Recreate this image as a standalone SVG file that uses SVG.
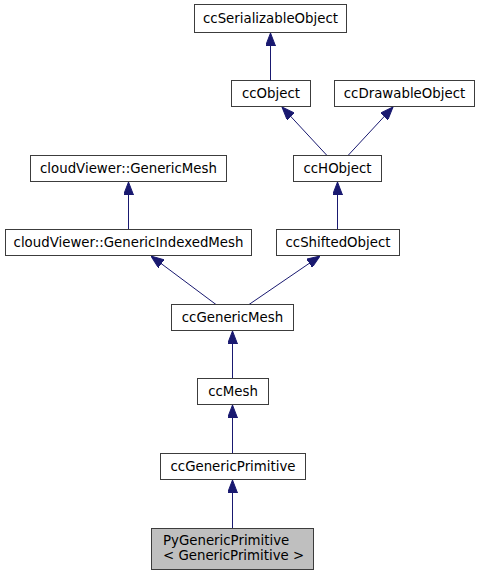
<svg xmlns="http://www.w3.org/2000/svg" width="480" height="575" viewBox="0 0 480 575">
<style>
  .node rect { fill: #ffffff; stroke: #3c3c3c; stroke-width: 1; }
  .node.cur rect { fill: #bfbfbf; }
  .node text { font-family: "DejaVu Sans", sans-serif; font-size: 13.33px; fill: #000000; }
  .node text.c { text-anchor: middle; }
  .edge { stroke: #191970; stroke-width: 1; fill: none; marker-end: url(#arr); }
</style>
<defs>
  <marker id="arr" markerUnits="userSpaceOnUse" viewBox="0 0 13 10" refX="13" refY="5" markerWidth="13" markerHeight="10" orient="auto">
    <path d="M0,0 L13,5 L0,10 Z" fill="#191970" stroke="#191970" stroke-width="1"/>
  </marker>
</defs>
<rect width="480" height="575" fill="#ffffff"/>
<g id="connectors">
  <path class="edge" d="M270.5,80.5 L270.5,33"/>
  <path class="edge" d="M327,155.5 L282,107"/>
  <path class="edge" d="M348,155.5 L393,107"/>
  <path class="edge" d="M128.5,229.5 L128.5,182"/>
  <path class="edge" d="M337.5,229.5 L337.5,182"/>
  <path class="edge" d="M216,304.5 L151,256"/>
  <path class="edge" d="M249,304.5 L320,256"/>
  <path class="edge" d="M232.5,378.5 L232.5,331"/>
  <path class="edge" d="M232.5,453.5 L232.5,405"/>
  <path class="edge" d="M232.5,528.5 L232.5,480"/>
</g>
<g id="ccSerializableObject" class="node">
  <rect x="194.5" y="4.5" width="152" height="28"/>
  <text class="c" x="270.5" y="23.2">ccSerializableObject</text>
</g>
<g id="ccObject" class="node">
  <rect x="231.5" y="80.5" width="79" height="26"/>
  <text class="c" x="271" y="98.2">ccObject</text>
</g>
<g id="ccDrawableObject" class="node">
  <rect x="334.5" y="80.5" width="140" height="26"/>
  <text class="c" x="404.5" y="98.2">ccDrawableObject</text>
</g>
<g id="cloudViewer_GenericMesh" class="node">
  <rect x="30.5" y="155.5" width="196" height="26"/>
  <text class="c" x="128.5" y="173.2">cloudViewer::GenericMesh</text>
</g>
<g id="ccHObject" class="node">
  <rect x="293.5" y="155.5" width="88" height="26"/>
  <text class="c" x="337.5" y="173.2">ccHObject</text>
</g>
<g id="cloudViewer_GenericIndexedMesh" class="node">
  <rect x="5.5" y="229.5" width="246" height="26"/>
  <text class="c" x="128.5" y="247.2">cloudViewer::GenericIndexedMesh</text>
</g>
<g id="ccShiftedObject" class="node">
  <rect x="276.5" y="229.5" width="123" height="26"/>
  <text class="c" x="338" y="247.2">ccShiftedObject</text>
</g>
<g id="ccGenericMesh" class="node">
  <rect x="171.5" y="304.5" width="122" height="26"/>
  <text class="c" x="232.5" y="322.2">ccGenericMesh</text>
</g>
<g id="ccMesh" class="node">
  <rect x="197.5" y="378.5" width="71" height="26"/>
  <text class="c" x="233" y="396.2">ccMesh</text>
</g>
<g id="ccGenericPrimitive" class="node">
  <rect x="160.5" y="453.5" width="145" height="26"/>
  <text class="c" x="233" y="471.2">ccGenericPrimitive</text>
</g>
<g id="PyGenericPrimitive" class="node cur">
  <rect x="151.5" y="528.5" width="162" height="41"/>
  <text x="163" y="545">PyGenericPrimitive</text>
  <text x="163" y="559.5">&lt; GenericPrimitive &gt;</text>
</g>
</svg>
